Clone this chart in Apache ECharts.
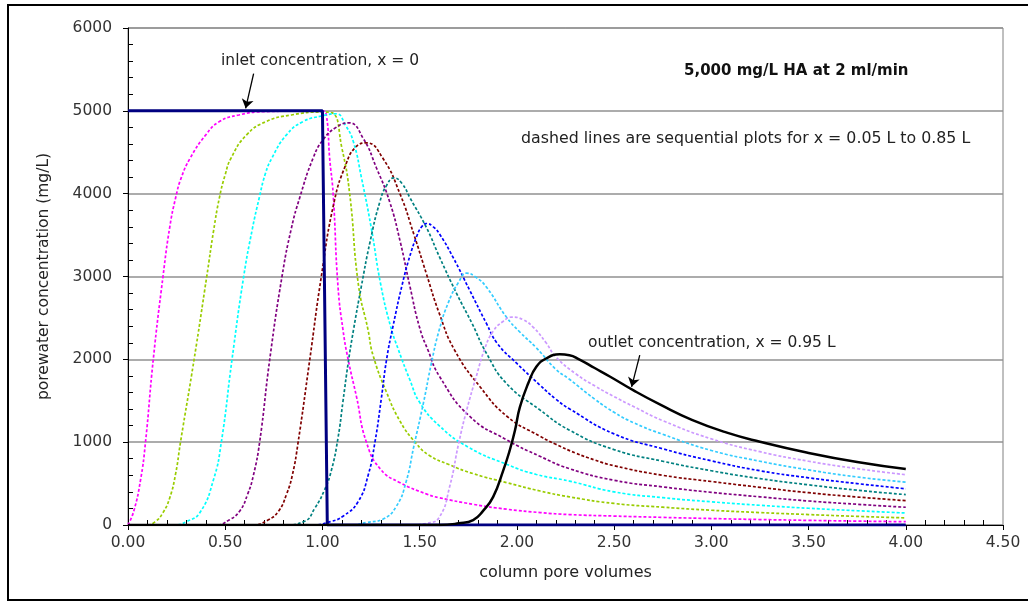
<!DOCTYPE html>
<html>
<head>
<meta charset="utf-8">
<title>Porewater concentration vs column pore volumes</title>
<script src="https://cdn.jsdelivr.net/npm/echarts@6/dist/echarts.min.js"></script>
<style>
  html, body { margin: 0; padding: 0; background: #fff; }
  #chart { width: 1028px; height: 602px; }
</style>
</head>
<body>
<div id="chart"></div>
<script>
// axis ticks
const xTicks = [0, 0.5, 1, 1.5, 2, 2.5, 3, 3.5, 4, 4.5];
const yTicks = [0, 1000, 2000, 3000, 4000, 5000, 6000];

// inlet concentration, x = 0 (solid navy)
const pvInlet = [0, 1.0, 1.025, 4.0];
const cInlet = [5000, 5000, 0, 0];

// dashed lines: x = 0.05 L ... 0.85 L
const pv05 = [0, 0.03, 0.065, 0.09, 0.13, 0.18, 0.215, 0.245, 0.275, 0.32, 0.4, 0.47, 0.57, 0.7, 1.0, 1.02, 1.037, 1.055, 1.08, 1.106, 1.132, 1.175, 1.226, 1.3, 1.4, 1.54, 1.6, 1.775, 1.95, 2.12, 2.27, 2.5, 2.75, 3.0, 3.25, 3.5, 3.75, 4.0];
const c05 = [0, 170, 550, 1000, 2000, 3000, 3600, 3950, 4200, 4430, 4710, 4870, 4950, 4990, 5000, 4950, 4430, 4000, 2880, 2350, 2000, 1550, 1000, 670, 510, 370, 330, 250, 190, 150, 126, 108, 92, 78, 66, 56, 47, 40];

const pv15 = [0, 0.095, 0.14, 0.18, 0.215, 0.245, 0.27, 0.34, 0.405, 0.44, 0.47, 0.5, 0.53, 0.61, 0.71, 0.84, 1.0, 1.05, 1.1, 1.14, 1.185, 1.235, 1.26, 1.33, 1.4, 1.48, 1.55, 1.65, 1.775, 1.95, 2.12, 2.27, 2.5, 2.75, 3.0, 3.25, 3.5, 3.75, 4.0];
const c15 = [0, 0, 40, 150, 330, 620, 1000, 2000, 3000, 3550, 3950, 4230, 4430, 4710, 4870, 4950, 4985, 4975, 4550, 4000, 2900, 2350, 2050, 1600, 1250, 990, 840, 730, 620, 510, 410, 340, 260, 215, 178, 150, 126, 104, 86];

const pv25 = [0, 0.24, 0.3, 0.37, 0.44, 0.48, 0.535, 0.595, 0.64, 0.675, 0.705, 0.74, 0.815, 0.9, 1.0, 1.07, 1.12, 1.16, 1.2, 1.25, 1.3, 1.35, 1.39, 1.45, 1.5, 1.6, 1.75, 1.95, 2.1, 2.27, 2.5, 2.75, 3.0, 3.25, 3.5, 3.75, 4.0];
const c25 = [0, 0, 40, 150, 550, 1000, 2000, 3000, 3580, 3950, 4230, 4430, 4710, 4870, 4940, 4965, 4820, 4620, 4200, 3600, 2900, 2400, 2120, 1750, 1480, 1200, 940, 730, 610, 530, 400, 330, 280, 238, 202, 172, 145];

const pv35 = [0, 0.45, 0.52, 0.575, 0.615, 0.645, 0.677, 0.729, 0.792, 0.84, 0.883, 0.952, 1.003, 1.07, 1.137, 1.209, 1.278, 1.346, 1.4, 1.45, 1.5, 1.543, 1.603, 1.758, 1.946, 2.118, 2.27, 2.5, 2.75, 3.0, 3.25, 3.5, 3.75, 4.0];
const c35 = [0, 0, 60, 170, 370, 600, 1000, 2000, 3000, 3580, 3950, 4430, 4650, 4800, 4855, 4670, 4310, 3900, 3420, 2880, 2380, 2110, 1790, 1310, 1030, 830, 680, 540, 460, 395, 340, 290, 250, 214];

const pv45 = [0, 0.64, 0.72, 0.775, 0.815, 0.845, 0.875, 0.935, 0.993, 1.06, 1.12, 1.17, 1.226, 1.31, 1.4, 1.47, 1.535, 1.6, 1.68, 1.81, 1.95, 2.12, 2.2, 2.3, 2.4, 2.5, 2.75, 3.0, 3.25, 3.5, 3.75, 4.0];
const c45 = [0, 0, 60, 170, 370, 600, 1000, 2000, 2980, 3900, 4350, 4560, 4613, 4430, 3990, 3510, 3030, 2560, 2110, 1670, 1310, 1070, 975, 870, 785, 715, 600, 525, 455, 390, 338, 294];

const pv55 = [0, 0.8, 0.909, 0.96, 1.01, 1.046, 1.08, 1.106, 1.132, 1.16, 1.2, 1.245, 1.295, 1.33, 1.368, 1.41, 1.45, 1.535, 1.603, 1.689, 1.77, 1.844, 1.946, 2.118, 2.27, 2.5, 2.75, 3.0, 3.25, 3.5, 3.75, 4.0];
const c55 = [0, 0, 46, 200, 420, 660, 1050, 1500, 1950, 2360, 2880, 3420, 3900, 4100, 4190, 4120, 3950, 3590, 3230, 2800, 2430, 2070, 1710, 1390, 1145, 910, 770, 655, 560, 485, 420, 367];

const pv65 = [0, 0.95, 1.04, 1.106, 1.183, 1.235, 1.27, 1.303, 1.33, 1.363, 1.41, 1.45, 1.484, 1.51, 1.535, 1.57, 1.603, 1.672, 1.758, 1.844, 1.9, 2.0, 2.118, 2.2, 2.272, 2.5, 2.75, 3.0, 3.25, 3.5, 3.75, 4.0];
const c65 = [0, 0, 40, 106, 280, 600, 1000, 1530, 2000, 2400, 2900, 3250, 3480, 3600, 3640, 3600, 3510, 3230, 2830, 2430, 2190, 1950, 1690, 1520, 1400, 1100, 920, 775, 655, 570, 500, 437];

const pv75 = [0, 1.15, 1.226, 1.31, 1.38, 1.43, 1.47, 1.52, 1.56, 1.6, 1.65, 1.7, 1.741, 1.79, 1.844, 1.946, 2.015, 2.1, 2.2, 2.27, 2.4, 2.5, 2.6, 2.75, 3.0, 3.25, 3.5, 3.75, 4.0];
const c75 = [0, 0, 30, 70, 226, 520, 950, 1480, 1950, 2350, 2700, 2930, 3040, 2990, 2870, 2510, 2330, 2140, 1880, 1760, 1520, 1360, 1235, 1095, 900, 770, 665, 580, 517];

const pv85 = [0, 1.45, 1.535, 1.6, 1.655, 1.7, 1.741, 1.792, 1.835, 1.878, 1.93, 1.975, 2.03, 2.083, 2.15, 2.2, 2.3, 2.4, 2.5, 2.6, 2.75, 3.0, 3.25, 3.5, 3.75, 4.0];
const c85 = [0, 0, 20, 90, 470, 980, 1380, 1800, 2130, 2340, 2460, 2510, 2480, 2390, 2200, 2030, 1830, 1680, 1550, 1430, 1260, 1040, 885, 770, 680, 607];

// outlet concentration, x = 0.95 L (solid black)
const pvOut = [0, 1.6, 1.7, 1.775, 1.826, 1.878, 1.93, 1.963, 1.99, 2.015, 2.06, 2.1, 2.15, 2.22, 2.27, 2.32, 2.4, 2.48, 2.6, 2.74, 2.9, 3.08, 3.25, 3.49, 3.75, 4.0];
const cOut = [0, 0, 20, 60, 170, 340, 660, 900, 1140, 1420, 1720, 1910, 2010, 2060, 2050, 2000, 1895, 1790, 1625, 1450, 1270, 1115, 1005, 875, 760, 675];

// annotation arrows [tail, tip] in data units
const inletArrow = [[0.646, 5450], [0.605, 5030]];
const outletArrow = [[2.632, 2050], [2.59, 1668]];

const FONT = '"DejaVu Sans", sans-serif';

function pairs(xs, ys) {
  return xs.map((x, i) => [x, ys[i]]);
}

const dashed = [
  { name: 'x = 0.05 L', color: '#ff00ff', pv: pv05, c: c05 },
  { name: 'x = 0.15 L', color: '#99cc00', pv: pv15, c: c15 },
  { name: 'x = 0.25 L', color: '#00ffff', pv: pv25, c: c25 },
  { name: 'x = 0.35 L', color: '#800080', pv: pv35, c: c35 },
  { name: 'x = 0.45 L', color: '#800000', pv: pv45, c: c45 },
  { name: 'x = 0.55 L', color: '#008080', pv: pv55, c: c55 },
  { name: 'x = 0.65 L', color: '#0000ff', pv: pv65, c: c65 },
  { name: 'x = 0.75 L', color: '#33ccff', pv: pv75, c: c75 },
  { name: 'x = 0.85 L', color: '#cc99ff', pv: pv85, c: c85 }
];

function arrowLine(arr) {
  return {
    silent: true,
    symbol: ['none', 'arrow'],
    symbolSize: 9,
    label: { show: false },
    lineStyle: { color: '#000', width: 1.3, type: 'solid' },
    emphasis: { disabled: true },
    data: [[{ coord: arr[0] }, { coord: arr[1] }]]
  };
}

const series = dashed.map(d => ({
  type: 'line',
  name: d.name,
  data: pairs(d.pv, d.c),
  symbol: 'none',
  smooth: 0.5,
  lineStyle: { color: d.color, width: 1.7, type: [3, 2] }
}));

series.push({
  type: 'line',
  name: 'inlet concentration',
  data: pairs(pvInlet, cInlet),
  symbol: 'none',
  lineStyle: { color: '#000080', width: 3 },
  markLine: arrowLine(inletArrow)
});

series.push({
  type: 'line',
  name: 'outlet concentration',
  data: pairs(pvOut, cOut),
  symbol: 'none',
  smooth: 0.5,
  lineStyle: { color: '#000', width: 2.5 },
  markLine: arrowLine(outletArrow)
});

const xStep = xTicks[1] - xTicks[0];
const yStep = yTicks[1] - yTicks[0];

const option = {
  animation: false,
  backgroundColor: '#fff',
  textStyle: { fontFamily: FONT },
  grid: { left: 128, right: 25, top: 28, bottom: 77, show: true, borderColor: '#808080', borderWidth: 1 },
  xAxis: [
    {
      type: 'value',
      min: xTicks[0],
      max: xTicks[xTicks.length - 1],
      interval: xStep,
      name: 'column pore volumes',
      nameLocation: 'middle',
      nameGap: 40,
      nameTextStyle: { fontSize: 16, color: '#222', fontFamily: FONT },
      axisLine: { onZero: false, lineStyle: { color: '#000', width: 1 } },
      axisTick: { length: 5, lineStyle: { color: '#000' } },
      axisLabel: { formatter: v => v.toFixed(2), fontSize: 15.5, color: '#333', margin: 10, fontFamily: FONT },
      splitLine: { show: false }
    },
    {
      type: 'value',
      position: 'bottom',
      min: xTicks[0],
      max: xTicks[xTicks.length - 1],
      interval: xStep,
      axisLine: { show: false, onZero: false },
      axisTick: { show: false, inside: true },
      axisLabel: { show: false },
      splitLine: { show: false },
      minorTick: { show: true, splitNumber: 5, length: 5, lineStyle: { color: '#000' } }
    }
  ],
  yAxis: [
    {
      type: 'value',
      min: yTicks[0],
      max: yTicks[yTicks.length - 1],
      interval: yStep,
      name: 'porewater concentration (mg/L)',
      nameLocation: 'middle',
      nameGap: 76,
      nameTextStyle: { fontSize: 15.5, color: '#222', fontFamily: FONT },
      axisLine: { show: true, lineStyle: { color: '#000', width: 1 } },
      axisTick: { show: true, length: 5, lineStyle: { color: '#000' } },
      axisLabel: { formatter: v => String(v), fontSize: 15.5, color: '#333', margin: 16, fontFamily: FONT },
      splitLine: { show: true, lineStyle: { color: '#909090', width: 1.5 } }
    },
    {
      type: 'value',
      position: 'left',
      min: yTicks[0],
      max: yTicks[yTicks.length - 1],
      interval: yStep,
      axisLine: { show: false },
      axisTick: { show: false, inside: true },
      axisLabel: { show: false },
      splitLine: { show: false },
      minorTick: { show: true, splitNumber: 5, length: 5, lineStyle: { color: '#000' } }
    }
  ],
  graphic: [
    {
      type: 'polyline',
      silent: true,
      shape: { points: [[1028, 5], [8, 5], [8, 600], [1028, 600]] },
      style: { stroke: '#000', lineWidth: 2, fill: null }
    },
    {
      type: 'text', x: 221, y: 61, silent: true,
      style: { text: 'inlet concentration, x = 0', fontSize: 15.5, fontFamily: FONT, fill: '#222', verticalAlign: 'middle' }
    },
    {
      type: 'text', x: 684, y: 71, silent: true,
      style: { text: '5,000 mg/L HA at 2 ml/min', fontSize: 15, fontWeight: 'bold', fontFamily: FONT, fill: '#111', verticalAlign: 'middle' }
    },
    {
      type: 'text', x: 521, y: 139, silent: true,
      style: { text: 'dashed lines are sequential plots for x = 0.05 L to 0.85 L', fontSize: 15.8, fontFamily: FONT, fill: '#222', verticalAlign: 'middle' }
    },
    {
      type: 'text', x: 588, y: 343, silent: true,
      style: { text: 'outlet concentration, x = 0.95 L', fontSize: 15.5, fontFamily: FONT, fill: '#222', verticalAlign: 'middle' }
    }
  ],
  series: series
};

const chart = echarts.init(document.getElementById('chart'));
chart.setOption(option);
</script>
</body>
</html>
